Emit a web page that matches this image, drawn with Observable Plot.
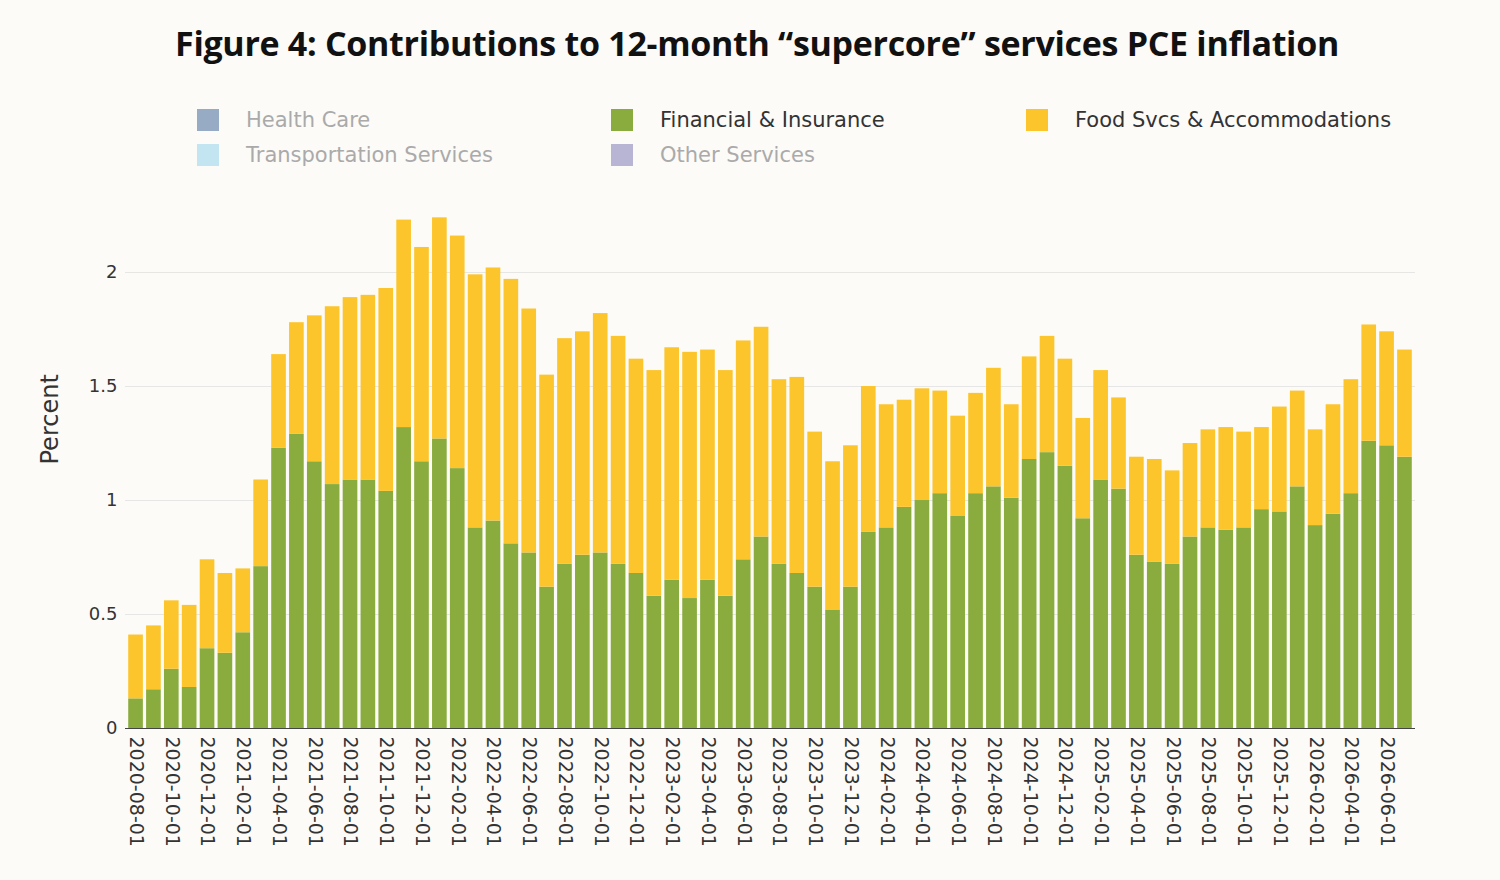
<!DOCTYPE html>
<html><head><meta charset="utf-8">
<script src="https://cdn.jsdelivr.net/npm/d3@7"></script>
<script src="https://cdn.jsdelivr.net/npm/@observablehq/plot@0.6"></script>
<style>
body{margin:0;background:#fcfbf8;font-family:"DejaVu Sans",sans-serif;width:1500px;height:880px;position:relative;overflow:hidden}
#title{position:absolute;top:20px;left:0;width:1514px;text-align:center;font:bold 34px "Open Sans",sans-serif;color:#111;letter-spacing:-0.3px}
.lg{position:absolute;font-size:21px;display:flex;align-items:center}
.lg span{display:inline-block;width:22px;height:22px;margin-right:27px}
#chart{position:absolute;top:190px;left:0}
</style></head><body>
<div id="title">Figure 4: Contributions to 12-month “supercore” services PCE inflation</div>
<div id="legend"></div>
<div id="chart"></div>
<script>
const months = [];
for (let y = 2020, m = 8; months.length < 72; ) { months.push(`${y}-${String(m).padStart(2,"0")}-01`); m++; if (m > 12) { m = 1; y++; } }
const financial = [0.13,0.17,0.26,0.18,0.35,0.33,0.42,0.71,1.23,1.29,1.17,1.07,1.09,1.09,1.04,1.32,1.17,1.27,1.14,0.88,0.91,0.81,0.77,0.62,0.72,0.76,0.77,0.72,0.68,0.58,0.65,0.57,0.65,0.58,0.74,0.84,0.72,0.68,0.62,0.52,0.62,0.86,0.88,0.97,1.00,1.03,0.93,1.03,1.06,1.01,1.18,1.21,1.15,0.92,1.09,1.05,0.76,0.73,0.72,0.84,0.88,0.87,0.88,0.96,0.95,1.06,0.89,0.94,1.03,1.26,1.24,1.19];
const total = [0.41,0.45,0.56,0.54,0.74,0.68,0.70,1.09,1.64,1.78,1.81,1.85,1.89,1.90,1.93,2.23,2.11,2.24,2.16,1.99,2.02,1.97,1.84,1.55,1.71,1.74,1.82,1.72,1.62,1.57,1.67,1.65,1.66,1.57,1.70,1.76,1.53,1.54,1.30,1.17,1.24,1.50,1.42,1.44,1.49,1.48,1.37,1.47,1.58,1.42,1.63,1.72,1.62,1.36,1.57,1.45,1.19,1.18,1.13,1.25,1.31,1.32,1.30,1.32,1.41,1.48,1.31,1.42,1.53,1.77,1.74,1.66];
const foodSvcs = total.map((t,i)=>+(t-financial[i]).toFixed(2));
const legendItems = [
 {name:"Health Care",color:"#97abc4",on:false,x:197,y:108},
 {name:"Transportation Services",color:"#c3e5f1",on:false,x:197,y:143},
 {name:"Financial & Insurance",color:"#8aac3e",on:true,x:611,y:108},
 {name:"Other Services",color:"#b8b4d4",on:false,x:611,y:143},
 {name:"Food Svcs & Accommodations",color:"#fcc52c",on:true,x:1026,y:108}
];
const lg = document.getElementById("legend");
legendItems.forEach(d=>{const e=document.createElement("div");e.className="lg";e.style.left=d.x+"px";e.style.top=d.y+"px";e.style.color=d.on?"#333":"#aaa";
 e.innerHTML=`<span style="background:${d.color}"></span>${d.name}`;lg.appendChild(e);});
const data = [];
months.forEach((m,i)=>{data.push({month:m,series:"Financial & Insurance",value:financial[i]});data.push({month:m,series:"Food Svcs & Accommodations",value:foodSvcs[i]});});
const chart = Plot.plot({
 width:1500,height:690,marginLeft:125,marginRight:85,marginTop:10,marginBottom:152,
 style:{background:"transparent",fontFamily:"DejaVu Sans",fontSize:"18px",color:"#333"},
 x:{domain:months,padding:0.18,label:null,tickRotate:90,tickSize:0,tickPadding:8,tickFormat:(d,i)=>i%2===0?d:""},
 y:{domain:[0,2.316],ticks:[0,0.5,1,1.5,2],tickFormat:d=>String(d),tickSize:0,tickPadding:8,grid:true,label:null},
 color:{domain:["Financial & Insurance","Food Svcs & Accommodations"],range:["#8aac3e","#fcc52c"]},
 marks:[
  Plot.gridY([0.5,1,1.5,2],{stroke:"#e6e6e6",strokeOpacity:1}),
  Plot.barY(data,{x:"month",y:"value",fill:"series",order:["Financial & Insurance","Food Svcs & Accommodations"]}),
  Plot.ruleY([0],{stroke:"#444"}),
  Plot.text(["Percent"],{frameAnchor:"left",dx:-75,rotate:-90,fontSize:24,fill:"#333"})
 ]
});
chart.querySelectorAll('[aria-label="x-axis tick label"] text').forEach(t=>t.setAttribute("font-size","19"));
document.getElementById("chart").appendChild(chart);
</script></body></html>
